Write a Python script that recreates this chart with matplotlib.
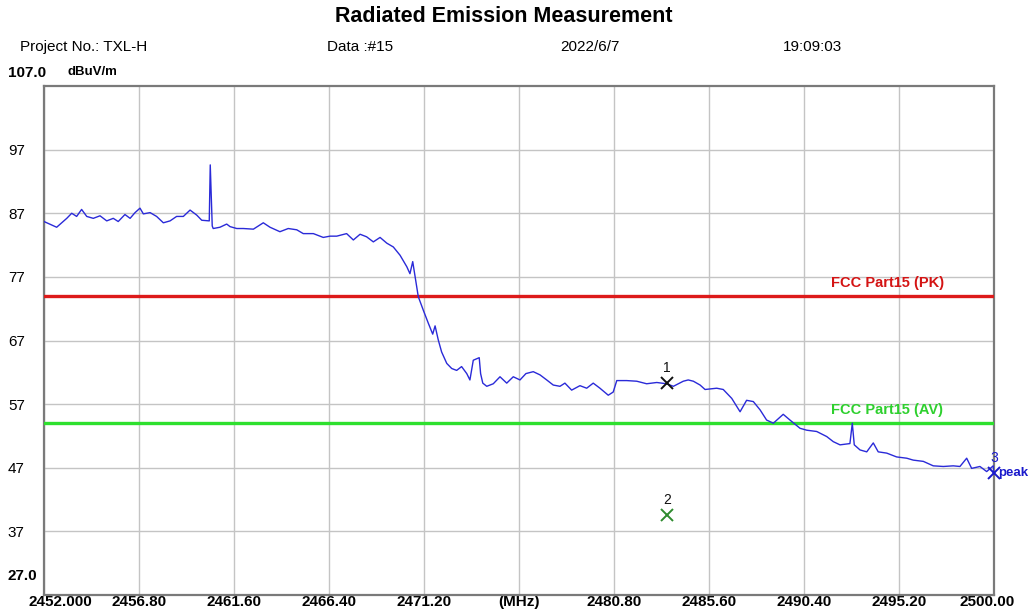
import numpy as np
import matplotlib.pyplot as plt
import matplotlib.transforms as mtransforms

plt.rcParams['font.family'] = ['Liberation Sans', 'DejaVu Sans']

# Trace (MHz offset from 2452, dBuV/m)
freq_off = [0.00, 0.64, 1.15, 1.40, 1.65, 1.90, 2.16, 2.49, 2.83, 3.17, 3.50, 3.75,
            4.09, 4.35, 4.60, 4.85, 5.02, 5.36, 5.69, 6.03, 6.37, 6.70, 7.04, 7.38,
            7.72, 7.97, 8.30, 8.35, 8.40, 8.45, 8.50, 8.55, 8.89, 9.23, 9.40, 9.74,
            10.07, 10.58, 11.08, 11.42, 11.92, 12.34, 12.77, 13.10, 13.61, 14.11,
            14.45, 14.79, 15.29, 15.63, 15.97, 16.30, 16.64, 16.98, 17.32, 17.65,
            17.99, 18.33, 18.49, 18.63, 18.75, 18.91, 19.16, 19.42, 19.64, 19.76,
            19.92, 20.09, 20.35, 20.60, 20.85, 21.10, 21.36, 21.52, 21.69, 21.99,
            22.06, 22.17, 22.37, 22.70, 23.04, 23.38, 23.71, 24.05, 24.35, 24.72,
            25.06, 25.40, 25.73, 26.07, 26.32, 26.66, 27.08, 27.42, 27.75, 28.09,
            28.51, 28.76, 28.94, 29.44, 29.95, 30.45, 30.96, 31.46, 31.80, 32.30,
            32.55, 32.81, 33.15, 33.40, 33.99, 34.32, 34.75, 35.17, 35.50, 35.84,
            36.18, 36.51, 36.85, 37.35, 37.69, 38.20, 38.54, 39.04, 39.55, 39.88,
            40.22, 40.72, 40.84, 40.94, 41.23, 41.57, 41.90, 42.15, 42.58, 43.08,
            43.59, 43.92, 44.43, 44.93, 45.44, 45.94, 46.28, 46.62, 46.87, 47.29,
            47.63, 47.96, 48.00]
level = [85.7, 84.8, 86.2, 87.0, 86.5, 87.6, 86.5, 86.2, 86.6, 85.8, 86.2, 85.7,
         86.8, 86.2, 87.1, 87.8, 86.9, 87.1, 86.5, 85.5, 85.8, 86.5, 86.5, 87.5,
         86.7, 85.9, 85.8, 85.8, 94.6, 90.0, 85.0, 84.6, 84.8, 85.3, 84.9, 84.6,
         84.6, 84.5, 85.5, 84.8, 84.1, 84.6, 84.4, 83.8, 83.8, 83.2,
         83.4, 83.4, 83.8, 82.8, 83.7, 83.3, 82.5, 83.2, 82.3, 81.7,
         80.4, 78.6, 77.5, 79.4, 77.0, 73.9, 71.8, 69.7, 68.0, 69.3,
         67.1, 65.2, 63.4, 62.6, 62.3, 62.9, 61.8, 60.8, 63.9, 64.3,
         61.8, 60.3, 59.8, 60.2, 61.3, 60.3, 61.3, 60.8, 61.8, 62.1,
         61.6, 60.8, 60.0, 59.8, 60.3, 59.2, 59.9, 59.5, 60.3, 59.5,
         58.4, 58.9, 60.7, 60.7, 60.6, 60.2, 60.4, 60.2, 59.8, 60.6,
         60.8, 60.6, 60.0, 59.3, 59.5, 59.3, 57.9, 55.8, 57.6, 57.4,
         56.1, 54.5, 54.0, 55.4, 54.5, 53.2, 52.9, 52.7, 51.9, 51.1,
         50.6, 50.8, 54.0, 50.6, 49.8, 49.5, 50.9, 49.5, 49.3, 48.7,
         48.5, 48.2, 48.0, 47.3, 47.2, 47.3, 47.2, 48.5, 46.9, 47.2,
         46.4, 47.3, 46.3]

pk_limit = 74.0
av_limit = 54.0
mark_freq = [2483.48, 2483.48, 2500.00]
mark_level = [60.3, 39.5, 46.2]
mark_names = ['1', '2', '3']
mark_colors = ['#111111', '#2e8b2e', '#1a1acc']

x_ticks = [2452.0 + 4.8 * i for i in range(11)]
x_labels = ['2452.000', '2456.80', '2461.60', '2466.40', '2471.20', '(MHz)',
            '2480.80', '2485.60', '2490.40', '2495.20', '2500.00']
y_ticks = [37, 47, 57, 67, 77, 87, 97]

freq = 2452.0 + np.array(freq_off)

fig = plt.figure(figsize=(10.34, 6.14), dpi=100, facecolor='w')
ax = fig.add_axes([44/1034, 1-595/614, 950/1034, 509/614])
ax.set_xlim(2452, 2500)
ax.set_ylim(27, 107)

ax.plot(freq, level, color='#2a2ad8', lw=1.0, zorder=4)
ax.axhline(pk_limit, color='#dd1a1a', lw=2.4, zorder=3)
ax.axhline(av_limit, color='#2ee02e', lw=2.4, zorder=3)
ax.text(2491.75, pk_limit + 0.9, 'FCC Part15 (PK)', color='#d41414', fontsize=10.5,
        fontweight='bold', ha='left', va='bottom')
ax.text(2491.75, av_limit + 0.9, 'FCC Part15 (AV)', color='#2ed02e', fontsize=10.5,
        fontweight='bold', ha='left', va='bottom')

for f, v, n, c in zip(mark_freq, mark_level, mark_names, mark_colors):
    ax.plot(f, v, marker='x', color=c, ms=8, mew=1.4, zorder=6, clip_on=False)
    ax.annotate(n, (f, v), xytext=(0, 6), textcoords='offset points',
                ha='center', va='bottom', fontsize=10, color='#111111' if n != '3' else c,
                annotation_clip=False)
ax.annotate('peak', (mark_freq[2], mark_level[2]), xytext=(3, 0), textcoords='offset points',
            ha='left', va='center', fontsize=9.5, fontweight='bold', color='#1a1acc',
            annotation_clip=False)

ax.set_xticks(x_ticks)
ax.set_xticklabels(x_labels, fontsize=11, fontweight='bold')
ax.set_yticks(y_ticks)
ax.set_yticklabels([str(t) for t in y_ticks], fontsize=11)
for lab in ax.get_yticklabels():
    lab.set_horizontalalignment('left')
ax.tick_params(axis='y', length=0, pad=26)
ax.tick_params(axis='x', length=0, pad=0)
xl = ax.get_xticklabels()
xl[0].set_transform(xl[0].get_transform() + mtransforms.ScaledTranslation(16/100, 0, fig.dpi_scale_trans))
xl[-1].set_transform(xl[-1].get_transform() + mtransforms.ScaledTranslation(-7/100, 0, fig.dpi_scale_trans))
ax.grid(True, color='#c4c4c4', lw=1)
ax.set_axisbelow(True)
for s in ax.spines.values():
    s.set_color('#7a7a7a')
    s.set_linewidth(1.6)

fig.text(8/1034, 1-73/614, '107.0', fontsize=11, fontweight='bold', va='center', ha='left')
fig.text(8/1034, 1-576/614, '27.0', fontsize=11, fontweight='bold', va='center', ha='left')
fig.text(68/1034, 1-72/614, 'dBuV/m', fontsize=9.5, fontweight='bold', va='center', ha='left')

fig.text(504/1034, 1-16/614, 'Radiated Emission Measurement', fontsize=15.5,
         fontweight='bold', ha='center', va='center')
fig.text(20/1034, 1-47/614, 'Project No.: TXL-H', fontsize=11, va='center', ha='left')
fig.text(327/1034, 1-47/614, 'Data :#15', fontsize=11, va='center', ha='left')
fig.text(560/1034, 1-47/614, '2022/6/7', fontsize=11, va='center', ha='left')
fig.text(783/1034, 1-47/614, '19:09:03', fontsize=11, va='center', ha='left')

fig.savefig('out.png', dpi=100)
